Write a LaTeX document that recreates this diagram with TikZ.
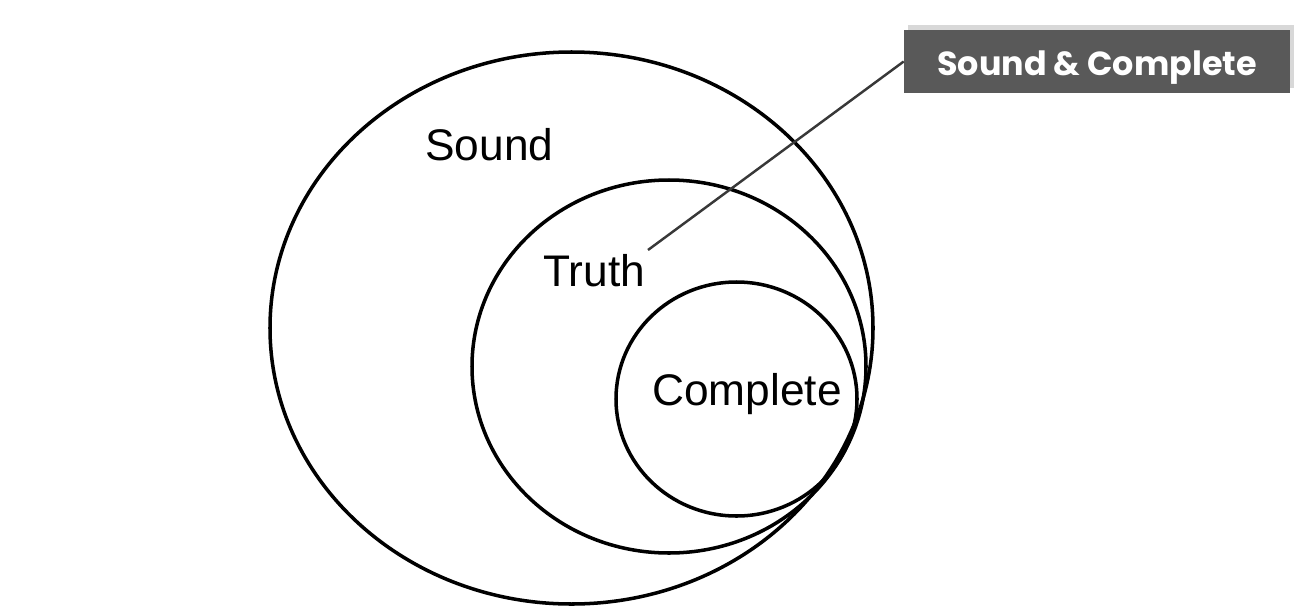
\documentclass[tikz,border=0pt]{standalone}
\usepackage{fontspec}
\setmainfont{Liberation Sans}
\newfontfamily\calloutfont{Poppins}
\usepackage{tikz}
\usetikzlibrary{shadows}
\definecolor{boxgray}{HTML}{595959}
\definecolor{leadgray}{HTML}{383838}
\tikzset{
  setlabel/.style={anchor=base west, inner sep=0pt, font=\fontsize{25.2}{30}\selectfont},
  setline/.style={line width=2pt},
  callout/.style={fill=boxgray, text=white, minimum width=7.72cm, minimum height=1.26cm,
    inner sep=0pt, text height=0.6cm, text depth=0.06cm,
    font=\calloutfont\bfseries\fontsize{19}{23}\selectfont,
    general shadow={fill=black!30, shadow xshift=0.08cm, shadow yshift=0.1cm, opacity=0.5}}
}
\begin{document}
\begin{tikzpicture}[x=0.02cm, y=-0.02cm]
  \useasboundingbox (0, 0) rectangle (1299, 609);

  \draw [setline] (571.5, 328) ellipse (301.5 and 276); % sound
  \draw [setline] (669, 366.5) ellipse (197 and 186.5); % truth
  \draw [setline] (736.5, 399) ellipse (120.5 and 117); % complete

  \node [setlabel] (sound) at (425, 160) {Sound};
  \node [setlabel] (truth) at (543, 286) {Truth};
  \node [setlabel] (complete) at (652, 405) {Complete};

  \node [callout] (sc) at (1097, 61.5) {Sound \& Complete};
  \coordinate (lead) at (648, 250);
  \draw [leadgray, line width=1.4pt] (lead) -- (sc.west);
\end{tikzpicture}
\end{document}
